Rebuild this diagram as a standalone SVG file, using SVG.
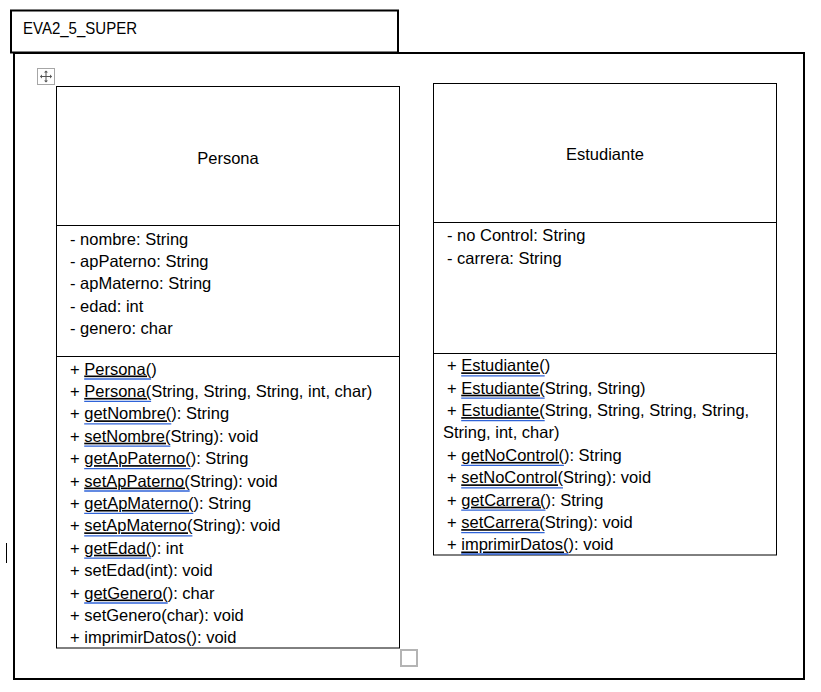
<svg xmlns="http://www.w3.org/2000/svg" width="821" height="692" viewBox="0 0 821 692">
<style>
text{font-family:"Liberation Sans",Arial,sans-serif;font-size:16.5px;fill:#000}
.box{fill:#fff;stroke:#000;stroke-width:1}
.thick{fill:none;stroke:#000;stroke-width:2}
.u{text-decoration:underline}
.sp{stroke:#2f63d8;stroke-width:1.3}
.div{stroke:#000;stroke-width:1}
</style>
<rect width="821" height="692" fill="#fff"/>
<g id="frame">
<rect class="thick" x="14" y="53" width="790" height="626"/>
<rect class="thick" x="11" y="10.5" width="387" height="42" fill="#fff"/>
<text x="23" y="34" textLength="114" lengthAdjust="spacingAndGlyphs">EVA2_5_SUPER</text>
</g>
<g id="move-handle">
<rect x="37.5" y="68.5" width="17" height="16" fill="#fff" stroke="#a6a6a6" stroke-width="1"/>
<path d="M40.5 76.5H51.5M46 71V82" stroke="#555" stroke-width="1"/>
<path d="M46 70.5L44 72.5H48Z M46 82.5L44 80.5H48Z M40 76.5L42 74.5V78.5Z M52 76.5L50 74.5V78.5Z" fill="#555"/>
</g>
<g id="persona">
<rect class="box" x="56.5" y="86.5" width="343" height="561.5"/>
<line class="div" x1="56.5" y1="225.5" x2="399.5" y2="225.5"/>
<line class="div" x1="56.5" y1="356.5" x2="399.5" y2="356.5"/>
<g transform="translate(0,1.5)">
<text x="228" y="162" text-anchor="middle">Persona</text>
<text x="70" y="243">- nombre: String</text>
<text x="70" y="265.4">- apPaterno: String</text>
<text x="70" y="287.8">- apMaterno: String</text>
<text x="70" y="310.2">- edad: int</text>
<text x="70" y="332.6">- genero: char</text>
<text x="70" y="373">+ <tspan class="u">Persona(</tspan>)</text>
<text x="70" y="395.4">+ <tspan class="u">Persona(</tspan>String, String, String, int, char)</text>
<text x="70" y="417.8">+ <tspan class="u">getNombre(</tspan>): String</text>
<text x="70" y="440.2">+ <tspan class="u">setNombre(</tspan>String): void</text>
<text x="70" y="462.6">+ <tspan class="u">getApPaterno(</tspan>): String</text>
<text x="70" y="485">+ <tspan class="u">setApPaterno(</tspan>String): void</text>
<text x="70" y="507.4">+ <tspan class="u">getApMaterno(</tspan>): String</text>
<text x="70" y="529.8">+ <tspan class="u">setApMaterno(</tspan>String): void</text>
<text x="70" y="552.2">+ <tspan class="u">getEdad(</tspan>): int</text>
<text x="70" y="574.6">+ setEdad(int): void</text>
<text x="70" y="597">+ <tspan class="u">getGenero(</tspan>): char</text>
<text x="70" y="619.4">+ setGenero(char): void</text>
<text x="70" y="641.8">+ imprimirDatos(): void</text>
<g id="persona-spell">
<line class="sp" x1="84.2" y1="377.5" x2="151.1" y2="377.5"/>
<line class="sp" x1="84.2" y1="399.9" x2="151.1" y2="399.9"/>
<line class="sp" x1="84.2" y1="422.3" x2="171.3" y2="422.3"/>
<line class="sp" x1="84.2" y1="444.7" x2="170.4" y2="444.7"/>
<line class="sp" x1="84.2" y1="467.1" x2="190.6" y2="467.1"/>
<line class="sp" x1="84.2" y1="489.5" x2="189.7" y2="489.5"/>
<line class="sp" x1="84.2" y1="511.9" x2="193.3" y2="511.9"/>
<line class="sp" x1="84.2" y1="534.3" x2="192.4" y2="534.3"/>
<line class="sp" x1="84.2" y1="556.7" x2="151.2" y2="556.7"/>
<line class="sp" x1="84.2" y1="601.5" x2="167.7" y2="601.5"/>
</g>
</g>
</g>
<g id="estudiante">
<rect class="box" x="433.5" y="83.5" width="343" height="471.5"/>
<line class="div" x1="433.5" y1="222.5" x2="776.5" y2="222.5"/>
<line class="div" x1="433.5" y1="353.5" x2="776.5" y2="353.5"/>
<g transform="translate(0,0.8)">
<text x="605" y="159" text-anchor="middle">Estudiante</text>
<text x="447" y="240.5">- no Control: String</text>
<text x="447" y="262.9">- carrera: String</text>
<text x="447" y="370.5">+ <tspan class="u">Estudiante(</tspan>)</text>
<text x="447" y="392.9">+ <tspan class="u">Estudiante(</tspan>String, String)</text>
<text x="447" y="415.3">+ <tspan class="u">Estudiante(</tspan>String, String, String, String,</text>
<text x="443" y="437.7">String, int, char)</text>
<text x="447" y="460.1">+ <tspan class="u">getNoControl(</tspan>): String</text>
<text x="447" y="482.5">+ <tspan class="u">setNoControl(</tspan>String): void</text>
<text x="447" y="504.9">+ <tspan class="u">getCarrera(</tspan>): String</text>
<text x="447" y="527.3">+ <tspan class="u">setCarrera(</tspan>String): void</text>
<text x="447" y="549.7">+ <tspan class="u">imprimirDatos(</tspan>): void</text>
<g id="estudiante-spell">
<line class="sp" x1="461.2" y1="375" x2="544.7" y2="375"/>
<line class="sp" x1="461.2" y1="397.4" x2="544.7" y2="397.4"/>
<line class="sp" x1="461.2" y1="419.8" x2="544.7" y2="419.8"/>
<line class="sp" x1="461.2" y1="464.6" x2="563.9" y2="464.6"/>
<line class="sp" x1="461.2" y1="487" x2="563" y2="487"/>
<line class="sp" x1="461.2" y1="509.4" x2="545.5" y2="509.4"/>
<line class="sp" x1="461.2" y1="531.8" x2="544.6" y2="531.8"/>
<line class="sp" x1="461.2" y1="553.2" x2="568.4" y2="553.2"/>
</g>
</g>
</g>
<g id="connectors"></g>
<g id="resize-handle">
<rect x="401" y="650" width="16" height="16" fill="#fff" stroke="#b4b4b4" stroke-width="2"/>
</g>
<line x1="6.5" y1="543" x2="6.5" y2="563" stroke="#000" stroke-width="1"/>
</svg>
